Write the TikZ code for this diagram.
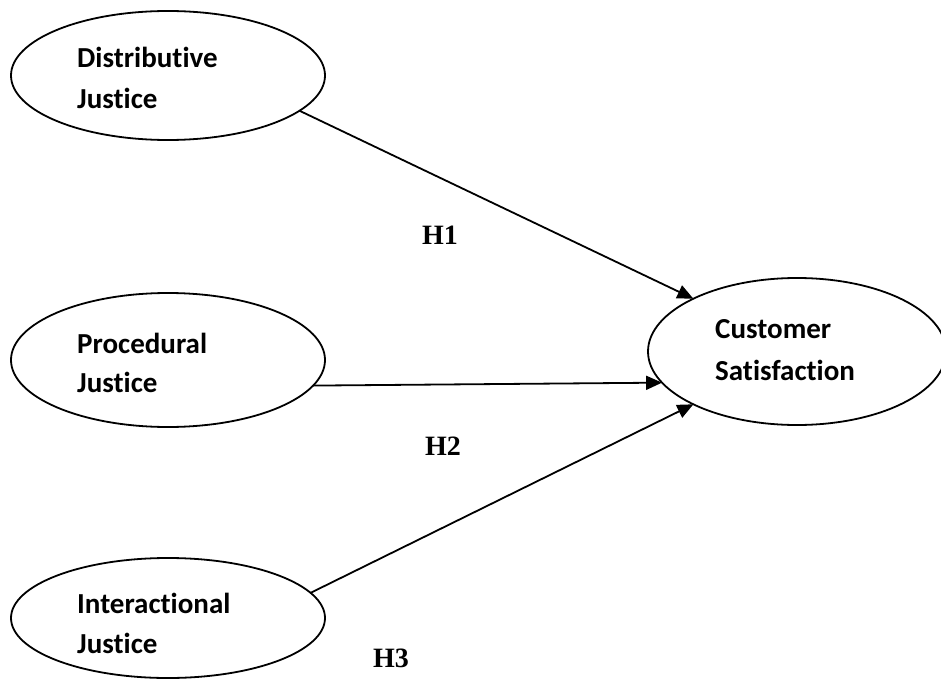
\documentclass[tikz,border=0pt]{standalone}
\usepackage{fontspec}
\setmainfont{Carlito}[Ligatures=NoCommon]
\newfontfamily\hfont{Liberation Serif}
\usetikzlibrary{shapes.geometric,arrows.meta}
\tikzset{
  construct/.style={draw=black, line width=1.8pt, ellipse, outer sep=0pt, inner sep=0pt},
  lbl/.style={anchor=base west, inner sep=0pt, font=\fontsize{29}{33}\selectfont\bfseries},
  hyp/.style={anchor=base west, inner sep=0pt, font=\fontsize{28}{32}\selectfont\hfont\bfseries},
  path/.style={draw=black, line width=1.8pt, -{Triangle[length=16pt,width=14pt]}}
}
\begin{document}
\begin{tikzpicture}[x=1pt,y=-1pt]
\useasboundingbox (0,0) rectangle (941,679);
% constructs
\node[construct, minimum width=314pt, minimum height=129pt] (dj) at (168,75.5) {};
\node[construct, minimum width=314pt, minimum height=134pt] (pj) at (168,360) {};
\node[construct, minimum width=314pt, minimum height=120pt] (ij) at (168,618) {};
\node[construct, minimum width=298pt, minimum height=147pt] (cs) at (797,351.5) {};
% labels
\node[lbl] (dj1) at (77,68) {Distributive};
\node[lbl] (dj2) at (77,109) {Justice};
\node[lbl] (pj1) at (77,353) {Procedural};
\node[lbl] (pj2) at (77,392) {Justice};
\node[lbl] (ij1) at (77,613) {Interactional};
\node[lbl] (ij2) at (77,653) {Justice};
\node[lbl] (cs1) at (715,338) {Customer};
\node[lbl] (cs2) at (715,380) {Satisfaction};
% hypotheses
\node[hyp] (h1) at (422,244) {H1};
\node[hyp] (h2) at (425,455) {H2};
\node[hyp] (h3) at (373,667) {H3};
% paths
\draw[path] (dj.-15.4) -- (cs.153);
\draw[path] (pj.-10.4) -- (cs.-167);
\draw[path] (ij.10.8) -- (cs.207.4);
\end{tikzpicture}
\end{document}
